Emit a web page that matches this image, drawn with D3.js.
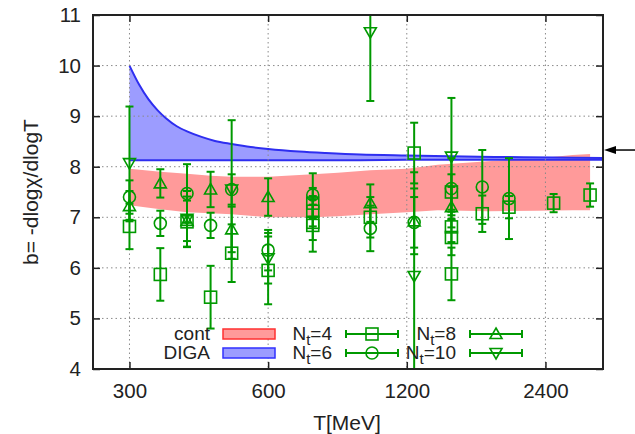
<!DOCTYPE html>
<html>
<head>
<meta charset="utf-8">
<style>
  body { margin: 0; background: white; }
  svg { font-family: "Liberation Sans", Arial, sans-serif; }
</style>
<script src="https://cdn.jsdelivr.net/npm/d3@7"></script>
</head>
<body>
<svg id="chart" width="635" height="434"></svg>
<script>
// ticks
let xTicks = [300, 600, 1200, 2400]
let yTicks = [4, 5, 6, 7, 8, 9, 10, 11]

// continuum band (cont)
let contT  = [300, 350, 400, 450, 500, 600, 750, 850, 1000, 1200, 1400, 1800, 2300, 2750, 3000]
let contHi = [7.96, 7.9, 7.86, 7.82, 7.8, 7.8, 7.85, 7.88, 7.93, 7.96, 8.04, 8.11, 8.16, 8.23, 8.25]
let contLo = [7.24, 7.16, 7.1, 7.08, 7.06, 7.0, 7.0, 7.02, 7.06, 7.1, 7.14, 7.12, 7.13, 7.14, 7.14]

// DIGA band
let digaT  = [300, 315, 330, 345, 360, 380, 400, 430, 460, 500, 550, 600, 700, 800, 950, 1200, 1600, 2000, 2500, 3200]
let digaHi = [10.0, 9.62, 9.33, 9.12, 8.96, 8.8, 8.7, 8.59, 8.51, 8.45, 8.39, 8.35, 8.3, 8.27, 8.24, 8.22, 8.2, 8.19, 8.18, 8.17]
let digaLo = [8.13, 8.13, 8.13, 8.13, 8.13, 8.13, 8.13, 8.13, 8.13, 8.13, 8.13, 8.13, 8.13, 8.13, 8.13, 8.14, 8.14, 8.14, 8.14, 8.14]

// lattice points [T, b, error]
let nt4 = [[300, 6.82, 0.45], [350, 5.87, 0.52], [400, 6.91, 0.5], [450, 5.42, 0.62],
           [500, 6.29, 0.57], [600, 5.95, 0.67], [750, 7.28, 0.3], [750, 7.12, 0.3],
           [750, 6.9, 0.35], [750, 6.84, 0.52], [1000, 7.0, 0.4], [1245, 8.27, 0.6],
           [1500, 7.5, 0.35], [1500, 6.81, 0.3], [1500, 6.6, 0.35], [1500, 5.88, 0.52],
           [1750, 7.07, 0.36], [2000, 7.2, 0.22], [2500, 7.28, 0.18], [3000, 7.44, 0.23]]
let nt6 = [[300, 7.4, 0.33], [350, 6.88, 0.25], [400, 7.47, 0.58], [450, 6.84, 0.25],
           [500, 7.55, 0.3], [600, 6.35, 0.4], [750, 7.44, 0.43], [1000, 6.78, 0.45],
           [1245, 6.9, 0.5], [1500, 7.57, 0.6], [1750, 7.6, 0.73], [2000, 7.37, 0.8]]
let nt8 = [[300, 7.22, 0.3], [350, 7.67, 0.28], [400, 6.93, 0.4], [450, 7.55, 0.35],
           [500, 6.76, 0.45], [600, 7.4, 0.37], [1000, 7.28, 0.37], [1245, 6.92, 0.65],
           [1500, 7.2, 0.4]]
let nt10 = [[300, 8.07, 1.12], [400, 6.97, 0.55], [500, 7.55, 1.37], [600, 6.19, 0.5],
            [1000, 10.66, 1.36], [1245, 5.84, 2.05], [1500, 8.2, 1.16]]

let arrowB = 8.33

let margin = {left: 93, top: 15, right: 32, bottom: 65}
let width = 635 - margin.left - margin.right
let height = 434 - margin.top - margin.bottom
let green = "#009900"

let svg = d3.select("#chart")
let g = svg.append("g").attr("transform", `translate(${margin.left},${margin.top})`)

let x = d3.scaleLog().domain([250, 3200]).range([0, width])
let y = d3.scaleLinear().domain([4, 11]).range([height, 0])

g.append("defs").append("clipPath").attr("id", "clip")
  .append("rect").attr("width", width).attr("height", height)

// bands
let contArea = d3.area()
  .x((d, i) => x(contT[i]))
  .y0((d, i) => y(contLo[i]))
  .y1((d, i) => y(contHi[i]))
g.append("path").datum(contT).attr("d", contArea).attr("fill", "#ff9a9a")

let digaArea = d3.area()
  .x((d, i) => x(digaT[i]))
  .y0((d, i) => y(digaLo[i]))
  .y1((d, i) => y(digaHi[i]))
  .curve(d3.curveCatmullRom)
g.append("path").datum(digaT).attr("d", digaArea).attr("fill", "#9c9cff")
let digaTop = d3.line().x((d, i) => x(digaT[i])).y((d, i) => y(digaHi[i])).curve(d3.curveCatmullRom)
let digaBot = d3.line().x((d, i) => x(digaT[i])).y((d, i) => y(digaLo[i]))
g.append("path").datum(digaT).attr("d", digaTop).attr("fill", "none").attr("stroke", "#2e2ef0").attr("stroke-width", 2)
g.append("path").datum(digaT).attr("d", digaBot).attr("fill", "none").attr("stroke", "#2e2ef0").attr("stroke-width", 2)

// grid
g.selectAll(".gx").data(xTicks).enter().append("line")
  .attr("x1", d => x(d)).attr("x2", d => x(d)).attr("y1", 0).attr("y2", height)
  .attr("stroke", "#8a8a8a").attr("stroke-width", 1).attr("stroke-dasharray", "1.5,3")
g.selectAll(".gy").data(yTicks.slice(1, -1)).enter().append("line")
  .attr("y1", d => y(d)).attr("y2", d => y(d)).attr("x1", 0).attr("x2", width)
  .attr("stroke", "#8a8a8a").attr("stroke-width", 1).attr("stroke-dasharray", "1.5,3")

// markers
function marker(sel, type) {
  if (type == "square") {
    sel.append("rect").attr("x", -6).attr("y", -6).attr("width", 12).attr("height", 12)
  } else if (type == "circle") {
    sel.append("circle").attr("r", 6)
  } else if (type == "up") {
    sel.append("path").attr("d", "M0,-6L6,4.5L-6,4.5Z")
  } else {
    sel.append("path").attr("d", "M0,6L6,-4.5L-6,-4.5Z")
  }
  sel.selectAll("rect,circle,path").attr("fill", "none").attr("stroke", green).attr("stroke-width", 1.6)
}

let pts = g.append("g").attr("clip-path", "url(#clip)")
function drawSeries(data, type) {
  let s = pts.append("g").selectAll("g").data(data).enter().append("g")
  s.append("line")
    .attr("x1", d => x(d[0])).attr("x2", d => x(d[0]))
    .attr("y1", d => y(d[1] - d[2])).attr("y2", d => y(d[1] + d[2]))
    .attr("stroke", green).attr("stroke-width", 2)
  for (let k of [-1, 1]) {
    s.append("line")
      .attr("x1", d => x(d[0]) - 4).attr("x2", d => x(d[0]) + 4)
      .attr("y1", d => y(d[1] + k * d[2])).attr("y2", d => y(d[1] + k * d[2]))
      .attr("stroke", green).attr("stroke-width", 2)
  }
  s.append("g").attr("transform", d => `translate(${x(d[0])},${y(d[1])})`)
    .each(function() { marker(d3.select(this), type) })
}
drawSeries(nt4, "square")
drawSeries(nt6, "circle")
drawSeries(nt8, "up")
drawSeries(nt10, "down")

// axes
let tickFs = "20.5px"
let yAxis = g.append("g").call(d3.axisLeft(y).tickValues(yTicks).tickSize(-7).tickPadding(12).tickFormat(d3.format("d")))
let yAxisR = g.append("g").attr("transform", `translate(${width},0)`)
  .call(d3.axisRight(y).tickValues(yTicks).tickSize(-7).tickFormat(""))
let xAxis = g.append("g").attr("transform", `translate(0,${height})`)
  .call(d3.axisBottom(x).tickValues(xTicks).tickSize(-7).tickPadding(14).tickFormat(d3.format("d")))
let xAxisT = g.append("g").call(d3.axisTop(x).tickValues(xTicks).tickSize(-7).tickFormat(""))
for (let a of [yAxis, yAxisR, xAxis, xAxisT]) {
  a.select(".domain").remove()
  a.selectAll(".tick line").attr("stroke", "#222").attr("stroke-width", 1.5)
  a.selectAll("text").attr("font-size", tickFs).attr("fill", "#222").attr("font-family", "Liberation Sans, Arial, sans-serif")
}
g.append("rect").attr("width", width).attr("height", height)
  .attr("fill", "none").attr("stroke", "#222").attr("stroke-width", 2)

// axis labels
svg.append("text").attr("x", margin.left + width / 2 - 1).attr("y", 430)
  .attr("text-anchor", "middle").attr("font-size", "21px").attr("fill", "#222").text("T[MeV]")
svg.append("text").attr("transform", `translate(38,${margin.top + height / 2}) rotate(-90)`)
  .attr("text-anchor", "middle").attr("font-size", "21px").attr("fill", "#222").text("b= -dlogχ/dlogT")

// arrow
svg.append("line").attr("x1", 635).attr("x2", margin.left + width + 10)
  .attr("y1", margin.top + y(arrowB)).attr("y2", margin.top + y(arrowB))
  .attr("stroke", "black").attr("stroke-width", 1.5)
svg.append("path")
  .attr("d", `M${margin.left + width + 1},${margin.top + y(arrowB)}l12,-4l0,8z`)
  .attr("fill", "black")

// legend
let fs = "19px"
let leg = svg.append("g")
let bands = [["cont", "#ff9a9a", "#ff3030"], ["DIGA", "#9c9cff", "#3030ff"]]
bands.forEach((b, i) => {
  let by = 340 + i * 19
  leg.append("text").attr("x", 210).attr("y", by).attr("text-anchor", "end")
    .attr("font-size", fs).attr("fill", "#222").text(b[0])
  leg.append("rect").attr("x", 223).attr("y", by - 11).attr("width", 52).attr("height", 10)
    .attr("fill", b[1]).attr("stroke", b[2]).attr("stroke-width", 1.5)
})
let series = [["4", "square", 332, 0], ["6", "circle", 332, 1], ["8", "up", 456, 0], ["10", "down", 456, 1]]
for (let s of series) {
  let by = 340 + s[3] * 19
  let t = leg.append("text").attr("x", s[2]).attr("y", by).attr("text-anchor", "end")
    .attr("font-size", fs).attr("fill", "#222")
  t.append("tspan").text("N")
  t.append("tspan").attr("dy", 5).attr("font-size", "15px").text("t")
  t.append("tspan").attr("dy", -5).text("=" + s[0])
  let x0 = s[2] + 14, x1 = s[2] + 66, ly = by - 6
  leg.append("line").attr("x1", x0).attr("x2", x1).attr("y1", ly).attr("y2", ly)
    .attr("stroke", green).attr("stroke-width", 2)
  for (let xx of [x0, x1]) {
    leg.append("line").attr("x1", xx).attr("x2", xx).attr("y1", ly - 4).attr("y2", ly + 4)
      .attr("stroke", green).attr("stroke-width", 2)
  }
  let m = leg.append("g").attr("transform", `translate(${(x0 + x1) / 2},${ly})`)
  marker(m, s[1])
}
</script>
</body>
</html>
